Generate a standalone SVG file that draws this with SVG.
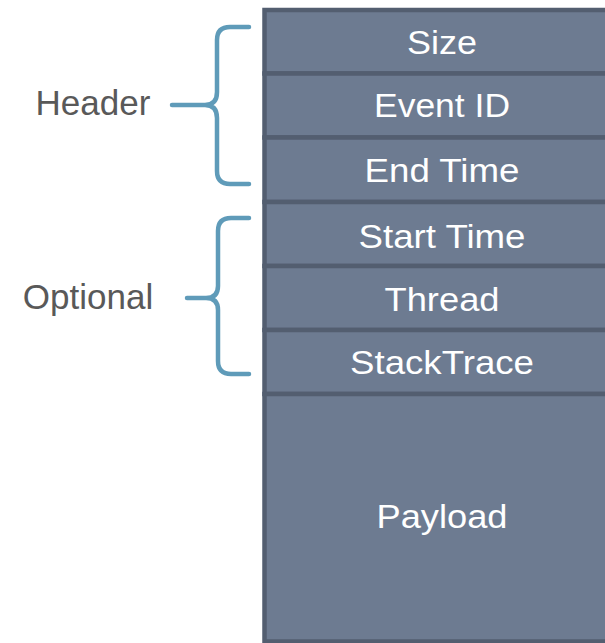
<svg xmlns="http://www.w3.org/2000/svg" width="605" height="643" viewBox="0 0 605 643">
<style>
.box{fill:#6d7b91;stroke:#535e70;stroke-width:4.5}
.bt{font-family:"Liberation Sans",Arial,sans-serif;font-size:33px;fill:#ffffff;text-anchor:middle}
.lbl{font-family:"Liberation Sans",Arial,sans-serif;font-size:35px;fill:#595959;text-anchor:middle}
.brace{fill:none;stroke:#5f9bb9;stroke-width:4.5;stroke-linecap:round;stroke-linejoin:round}
</style>
<rect width="605" height="643" fill="#ffffff"/>
<g id="size"><rect class="box" x="264.5" y="10" width="360" height="63.5"/><text class="bt" x="442" y="54" textLength="70" lengthAdjust="spacingAndGlyphs">Size</text></g>
<g id="eventid"><rect class="box" x="264.5" y="73.5" width="360" height="64"/><text class="bt" x="442" y="117" textLength="136" lengthAdjust="spacingAndGlyphs">Event ID</text></g>
<g id="endtime"><rect class="box" x="264.5" y="137.5" width="360" height="64.5"/><text class="bt" x="442" y="182" textLength="155" lengthAdjust="spacingAndGlyphs">End Time</text></g>
<g id="starttime"><rect class="box" x="264.5" y="202" width="360" height="64"/><text class="bt" x="442" y="248" textLength="167" lengthAdjust="spacingAndGlyphs">Start Time</text></g>
<g id="thread"><rect class="box" x="264.5" y="266" width="360" height="64"/><text class="bt" x="442" y="311" textLength="115" lengthAdjust="spacingAndGlyphs">Thread</text></g>
<g id="stacktrace"><rect class="box" x="264.5" y="330" width="360" height="64"/><text class="bt" x="442" y="374" textLength="184" lengthAdjust="spacingAndGlyphs">StackTrace</text></g>
<g id="payload"><rect class="box" x="264.5" y="394" width="360" height="247.5"/><text class="bt" x="442" y="528" textLength="131" lengthAdjust="spacingAndGlyphs">Payload</text></g>
<g id="header-label"><text class="lbl" x="93" y="115">Header</text></g>
<g id="optional-label"><text class="lbl" x="88" y="309">Optional</text></g>
<g id="connectors">
<path class="brace" d="M249,27 H230 Q217,27 217,40 V92 Q217,105 205,105 H172 M205,105 Q217,105 217,118 V171 Q217,184 230,184 H249"/>
<path class="brace" d="M249,218 H231 Q218,218 218,231 V286 Q218,298 206,298 H187 M206,298 Q218,298 218,310 V361 Q218,374 231,374 H249"/>
</g>
</svg>
